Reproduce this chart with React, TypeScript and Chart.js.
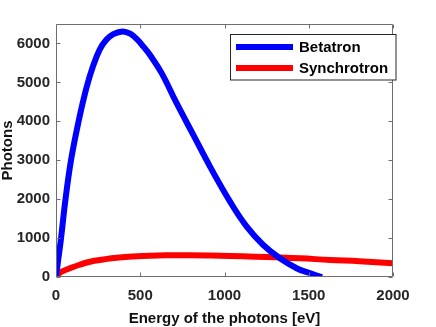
import React, { useEffect, useRef } from "react";
import { Chart, registerables } from "chart.js";

Chart.register(...registerables);

const betatronEnergy = [0, 10, 30, 55, 89, 134, 180, 220, 260, 300, 340, 396, 440, 480, 520, 560, 627, 716, 815, 914, 1033, 1132, 1230, 1329, 1428, 1500, 1567, 1580];
const betatronPhotons = [0, 340, 1000, 1950, 3000, 4000, 4850, 5420, 5850, 6100, 6240, 6310, 6250, 6110, 5910, 5690, 5237, 4465, 3650, 2836, 1936, 1293, 823, 480, 224, 110, 10, 0];

const synchrotronEnergy = [0, 20, 40, 83, 140, 202, 280, 360, 450, 558, 680, 795, 920, 1033, 1180, 1310, 1450, 1626, 1800, 2000];
const synchrotronPhotons = [0, 100, 150, 224, 315, 393, 450, 497, 525, 548, 557, 560, 552, 540, 522, 506, 482, 437, 405, 355];

const xTicks = [0, 500, 1000, 1500, 2000];
const yTicks = [0, 1000, 2000, 3000, 4000, 5000, 6000];

const seriesNames = ["Betatron", "Synchrotron"];
const seriesColors = ["#0000ff", "#ff0000"];

const FONT = "'Liberation Sans', Arial, Helvetica, sans-serif";

const framePlugin = {
  id: "frame",
  afterDraw(chart: any) {
    const { ctx, chartArea } = chart;
    const { left, right, top, bottom } = chartArea;
    const xs = chart.scales.x;
    const ys = chart.scales.y;
    ctx.save();
    ctx.strokeStyle = "#6e6e6e";
    ctx.lineWidth = 1;
    const L = Math.round(left) + 0.5;
    const R = Math.round(right) - 0.5;
    const T = Math.round(top) + 0.5;
    const B = Math.round(bottom) - 0.5;
    ctx.beginPath();
    ctx.rect(L, T, R - L, B - T);
    ctx.stroke();
    ctx.beginPath();
    xTicks.forEach((v) => {
      const px = Math.round(xs.getPixelForValue(v)) + 0.5;
      ctx.moveTo(px, B);
      ctx.lineTo(px, B - 4);
      ctx.moveTo(px, T);
      ctx.lineTo(px, T + 4);
    });
    yTicks.forEach((v) => {
      const py = Math.round(ys.getPixelForValue(v)) + 0.5;
      ctx.moveTo(L, py);
      ctx.lineTo(L + 4, py);
      ctx.moveTo(R, py);
      ctx.lineTo(R - 4, py);
    });
    ctx.stroke();

    ctx.fillStyle = "#111";
    ctx.font = `bold 15px ${FONT}`;
    ctx.textAlign = "center";
    ctx.textBaseline = "alphabetic";
    ctx.fillText("Energy of the photons [eV]", (left + right) / 2, 323);
    ctx.save();
    ctx.translate(12, (top + bottom) / 2);
    ctx.rotate(-Math.PI / 2);
    ctx.fillText("Photons", 0, 0);
    ctx.restore();

    ctx.fillStyle = "#ffffff";
    ctx.fillRect(230.5, 34.5, 165.5, 45.5);
    ctx.strokeStyle = "#262626";
    ctx.lineWidth = 1;
    ctx.strokeRect(230.5, 34.5, 165.5, 45.5);
    const rows = [47, 68];
    seriesNames.forEach((name, i) => {
      ctx.strokeStyle = seriesColors[i];
      ctx.lineWidth = 6;
      ctx.beginPath();
      ctx.moveTo(236, rows[i]);
      ctx.lineTo(293, rows[i]);
      ctx.stroke();
      ctx.fillStyle = "#000";
      ctx.textAlign = "left";
      ctx.textBaseline = "middle";
      ctx.font = `bold 15px ${FONT}`;
      ctx.fillText(name, 299, rows[i] + 1);
    });
    ctx.restore();
  },
};

export default function App() {
  const canvasRef = useRef<HTMLCanvasElement | null>(null);

  useEffect(() => {
    if (!canvasRef.current) return;
    const chart = new Chart(canvasRef.current, {
      type: "line",
      data: {
        datasets: [
          {
            label: seriesNames[0],
            data: betatronEnergy.map((x, i) => ({ x, y: betatronPhotons[i] })),
            borderColor: seriesColors[0],
            borderWidth: 6,
            pointRadius: 0,
            tension: 0.4,
            borderJoinStyle: "round",
            fill: false,
          },
          {
            label: seriesNames[1],
            data: synchrotronEnergy.map((x, i) => ({ x, y: synchrotronPhotons[i] })),
            borderColor: seriesColors[1],
            borderWidth: 6,
            pointRadius: 0,
            tension: 0.4,
            borderJoinStyle: "round",
            fill: false,
          },
        ],
      },
      options: {
        animation: false,
        responsive: false,
        devicePixelRatio: 1,
        layout: { padding: { top: 24, right: 43, left: 0, bottom: 0 } },
        plugins: {
          legend: { display: false },
          tooltip: { enabled: false },
        },
        scales: {
          x: {
            type: "linear",
            min: 0,
            max: 2000,
            grid: { display: false, drawTicks: false },
            border: { display: false },
            afterBuildTicks: (s: any) => {
              s.ticks = xTicks.map((value) => ({ value }));
            },
            ticks: {
              padding: 10,
              color: "#262626",
              autoSkip: false,
              font: { family: FONT, size: 15, weight: "bold" },
              maxRotation: 0,
              callback: (v: any) => String(v),
            },
            afterFit: (s: any) => {
              s.height = 50;
            },
          },
          y: {
            type: "linear",
            min: 0,
            max: 6500,
            grid: { display: false, drawTicks: false },
            border: { display: false },
            afterBuildTicks: (s: any) => {
              s.ticks = yTicks.map((value) => ({ value }));
            },
            ticks: {
              padding: 6,
              color: "#262626",
              autoSkip: false,
              font: { family: FONT, size: 15, weight: "bold" },
              callback: (v: any) => String(v),
            },
            afterFit: (s: any) => {
              s.width = 56;
            },
          },
        },
      } as any,
      plugins: [framePlugin],
    });
    return () => chart.destroy();
  }, []);

  return (
    <div style={{ position: "fixed", left: 0, top: 0, width: 436, height: 327, background: "#fff" }}>
      <canvas ref={canvasRef} width={436} height={327} style={{ width: 436, height: 327 }} />
    </div>
  );
}
